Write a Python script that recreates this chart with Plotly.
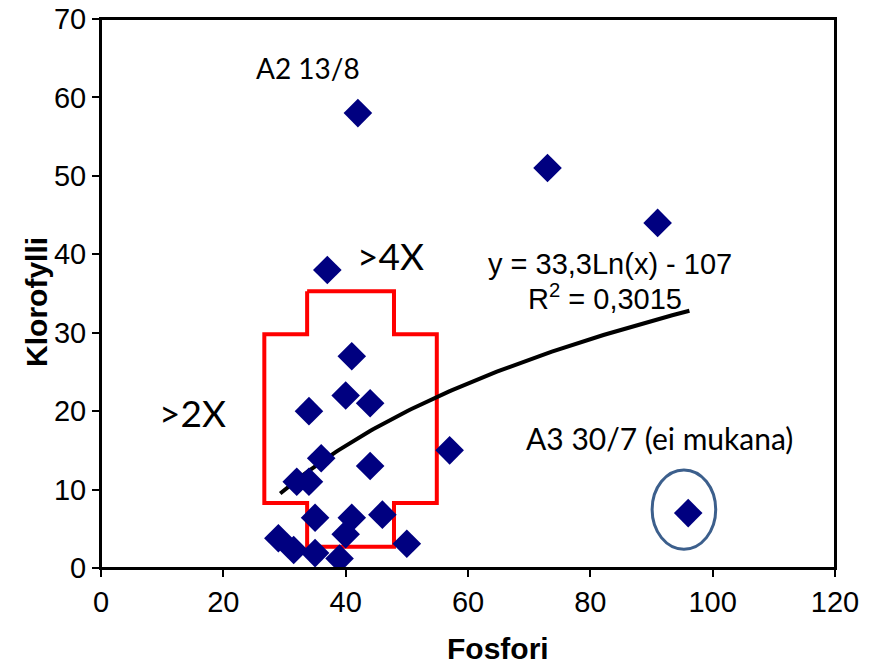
import numpy as np
import plotly.graph_objects as go

# --- data ---
fosfori = [42, 73, 91, 37, 96, 57, 41, 40, 44, 34, 36, 44, 32, 34, 35, 41, 46, 40, 50, 29, 31.5, 35, 39]
klorofylli = [58, 51, 44, 38, 7, 15, 27, 22, 21, 20, 14, 13, 11, 11, 6.4, 6.4, 6.8, 4.3, 3.1, 3.8, 2.3, 1.9, 1.2]

# logarithmic trendline as drawn (y = a*ln(x) + b)
trend_a = 19.6
trend_b = -56.7
trend_x_start = 29.3
trend_x_end = 96.2

# red outline (cross shape) in data units
box_x = [33.7, 47.9, 47.9, 54.9, 54.9, 47.9, 47.9, 33.7, 33.7, 26.7, 26.7, 33.7, 33.7]
box_y = [35.3, 35.3, 29.8, 29.8, 8.3, 8.3, 2.7, 2.7, 8.3, 8.3, 29.8, 29.8, 35.3]

# ellipse around excluded point
ell_x0, ell_x1 = 90.1, 100.5
ell_y0, ell_y1 = 2.4, 12.5

x_ticks = [0, 20, 40, 60, 80, 100, 120]
y_ticks = [0, 10, 20, 30, 40, 50, 60, 70]

fig = go.Figure()

fig.add_trace(go.Scatter(
    x=box_x, y=box_y, mode="lines",
    line=dict(color="#FF0000", width=4), hoverinfo="skip", showlegend=False))

tx = np.linspace(trend_x_start, trend_x_end, 120)
ty = trend_a * np.log(tx) + trend_b
fig.add_trace(go.Scatter(
    x=tx, y=ty, mode="lines",
    line=dict(color="black", width=4), hoverinfo="skip", showlegend=False))

fig.add_trace(go.Scatter(
    x=fosfori, y=klorofylli, mode="markers",
    marker=dict(symbol="diamond", size=22, color="#000080", line=dict(width=0)),
    showlegend=False))

fig.add_shape(type="circle", xref="x", yref="y",
              x0=ell_x0, x1=ell_x1, y0=ell_y0, y1=ell_y1,
              line=dict(color="#3C5F8C", width=3))

# plot-area frame
fig.add_shape(type="rect", xref="paper", yref="paper", x0=0, x1=1, y0=0, y1=1,
              line=dict(color="black", width=2), layer="above")

cal = "Lato, Open Sans, sans-serif"
ari = "Liberation Sans, Arial, sans-serif"

ann = [
    dict(x=33.8, y=63.8, text="A2 13/8", font=dict(family=cal, size=28, color="black")),
    dict(x=47.3, y=39.8, text=">4X", font=dict(family=cal, size=37, color="black")),
    dict(x=15.0, y=19.8, text=">2X", font=dict(family=cal, size=37, color="black")),
    dict(x=91.3, y=16.6, text="A3 30/7 (ei mukana)", font=dict(family=cal, size=30, color="black")),
    dict(x=83.2, y=38.7, text="y = 33,3Ln(x) - 107", font=dict(family=ari, size=29, color="black")),
    dict(x=82.4, y=34.6, text="R<sup>2</sup> = 0,3015", font=dict(family=ari, size=29, color="black")),
]
for a in ann:
    a.update(xref="x", yref="y", showarrow=False, xanchor="center", yanchor="middle")

ann.append(dict(xref="paper", yref="paper", x=0.541, y=-0.146, text="<b>Fosfori</b>",
                showarrow=False, xanchor="center", yanchor="middle",
                font=dict(family=ari, size=30, color="black")))
ann.append(dict(xref="paper", yref="paper", x=-0.087, y=0.485, text="<b>Klorofylli</b>",
                textangle=-90, showarrow=False, xanchor="center", yanchor="middle",
                font=dict(family=ari, size=30, color="black")))

fig.update_layout(
    width=864, height=658,
    margin=dict(l=93, r=37, t=11, b=98, autoexpand=False),
    paper_bgcolor="white", plot_bgcolor="white",
    annotations=ann,
    xaxis=dict(range=[0, 120], tickvals=x_ticks, showgrid=False, zeroline=False,
               showline=True, linecolor="black", linewidth=2, mirror=True,
               ticks="outside", ticklen=7, tickwidth=1.5, tickcolor="black",
               automargin=False, ticklabeloverflow="allow",
               tickfont=dict(family=ari, size=29, color="black")),
    yaxis=dict(range=[0, 70], tickvals=y_ticks, showgrid=False, zeroline=False,
               showline=True, linecolor="black", linewidth=2, mirror=True,
               ticks="outside", ticklen=7, tickwidth=1.5, tickcolor="black",
               automargin=False, ticklabeloverflow="allow",
               tickfont=dict(family=ari, size=29, color="black")),
)

fig.write_html("out.html")
